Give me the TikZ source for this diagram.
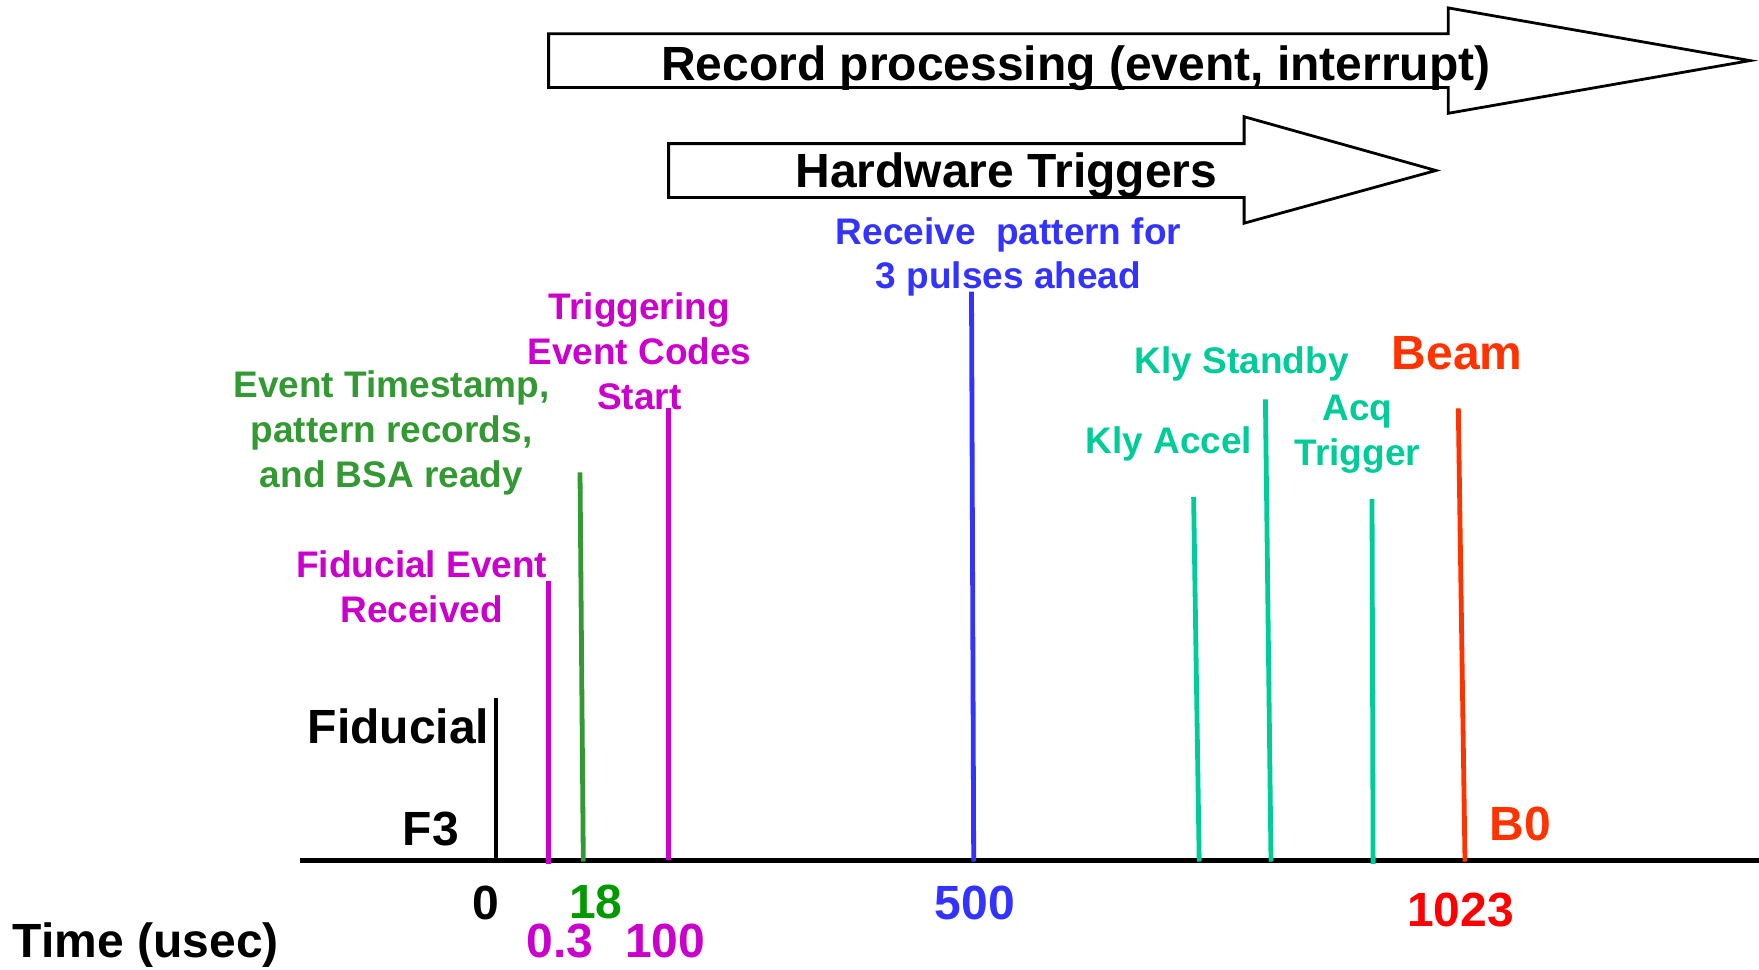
\documentclass[tikz,border=0pt]{standalone}
\usepackage{fontspec}
\setmainfont{Liberation Sans}
\usepackage[dvipsnames]{xcolor}
\definecolor{evmag}{HTML}{CC00CC}
\definecolor{evgreen}{HTML}{339933}
\definecolor{numgreen}{HTML}{009900}
\definecolor{patblue}{HTML}{3333FF}
\definecolor{klyteal}{HTML}{00CC99}
\definecolor{beamred}{HTML}{FF3300}
\definecolor{numred}{HTML}{FF0000}

\begin{document}
\begin{tikzpicture}[x=0.5pt,y=-0.5pt,-,thick,
    big text/.style={font=\fontsize{24}{28}\selectfont\bfseries,inner sep=0pt},
    label text/.style={font=\fontsize{18.5}{22.4}\selectfont\bfseries,align=center,inner sep=0pt},
    tick line/.style={line width=2.4pt},
    block arrow/.style={draw=black,fill=white,line width=1.4pt,line join=miter}]

    \useasboundingbox (0,0) rectangle (1759,969);

    \draw[block arrow] (548.6,33.7) -- (1448.2,33.7) -- (1448.2,7.9) -- (1750,60.6)
        -- (1448.2,113.3) -- (1448.2,87.5) -- (548.6,87.5) -- cycle;
    \node[big text] (rec) at (1075.8,68) {Record processing (event, interrupt)};

    \draw[block arrow] (668.6,143.6) -- (1244.1,143.6) -- (1244.1,116.7) -- (1435.9,170.5)
        -- (1244.1,223.2) -- (1244.1,197.4) -- (668.6,197.4) -- cycle;
    \node[big text] (hw) at (1006.3,175.6) {Hardware Triggers};

    \coordinate (axl) at (299.5,860.4);
    \coordinate (axr) at (1759,860.4);
    \coordinate (fidtop) at (495.8,697.8);
    \coordinate (fidbot) at (495.8,860.4);

    \coordinate (fer top) at (548.6,581.1);   \coordinate (fer bot) at (548.6,863.8);
    \coordinate (ts top) at (580,472.3);      \coordinate (ts bot) at (583.3,861.5);
    \coordinate (trg top) at (668.6,408.3);   \coordinate (trg bot) at (668.6,860.4);
    \coordinate (pat top) at (971.5,291.7);   \coordinate (pat bot) at (973.7,861.5);
    \coordinate (acc top) at (1193.6,497);    \coordinate (acc bot) at (1199.2,861.5);
    \coordinate (stb top) at (1265.4,399.4);  \coordinate (stb bot) at (1271,861.5);
    \coordinate (acq top) at (1372,499.2);    \coordinate (acq bot) at (1373.1,863.8);
    \coordinate (beam top) at (1458.3,408.3); \coordinate (beam bot) at (1465,861.5);

    \node[big text,anchor=east] (fid) at (490,726) {Fiducial};
    \node[big text] (f3) at (430.8,829) {F3};
    \node[big text] (time) at (145.8,945) {Time (usec)};

    \node[label text,evmag] (fer) at (421.8,586.5) {Fiducial Event\\Received};
    \node[label text,evgreen] (ts) at (391.5,433) {Event Timestamp,\\pattern records,\\and BSA ready};
    \node[label text,evmag] (trg) at (639.4,351.5) {Triggering\\Event Codes\\Start};
    \node[label text,patblue] (pat) at (1008.5,257) {Receive\ \ pattern for\\3 pulses ahead};
    \node[label text,klyteal] (acc) at (1168.9,443.5) {Kly Accel};
    \node[label text,klyteal] (stb) at (1241.8,363.5) {Kly Standby};
    \node[label text,klyteal] (acq) at (1357.4,434.5) {Acq\\Trigger};
    \node[big text,beamred] (beam) at (1457.2,353) {Beam};
    \node[big text,beamred] (b0) at (1520,823.5) {B0};

    \node[big text] (n0) at (485.7,903) {0};
    \node[big text,numgreen] (n18) at (595.7,902) {18};
    \node[big text,evmag] (n03) at (559.8,941) {0.3};
    \node[big text,evmag] (n100) at (665.2,941) {100};
    \node[big text,patblue] (n500) at (974.8,903) {500};
    \node[big text,numred] (n1023) at (1460.6,910) {1023};

    \path[tick line]
        (axl) edge[line width=2.6pt] (axr)
        (fidtop) edge[line width=2pt] (fidbot)
        (fer top) edge[evmag] (fer bot)
        (ts top) edge[evgreen] (ts bot)
        (trg top) edge[evmag] (trg bot)
        (pat top) edge[patblue] (pat bot)
        (acc top) edge[klyteal] (acc bot)
        (stb top) edge[klyteal] (stb bot)
        (acq top) edge[klyteal] (acq bot)
        (beam top) edge[beamred] (beam bot)
        ;
\end{tikzpicture}
\end{document}
